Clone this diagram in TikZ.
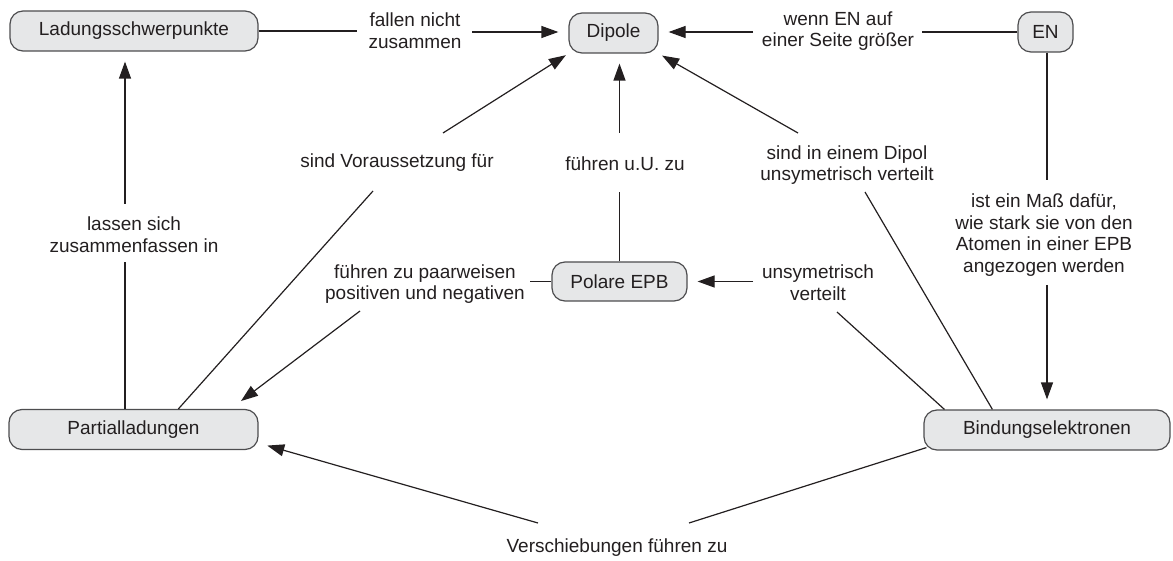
\documentclass[tikz,border=0pt]{standalone}
\usepackage{fontspec}
\setmainfont{Liberation Sans}
\usetikzlibrary{arrows.meta,calc}
\definecolor{boxfill}{HTML}{E6E7E8}
\definecolor{boxdraw}{HTML}{4D4D4F}
\definecolor{ink}{HTML}{231F20}
\begin{document}
\begin{tikzpicture}[x=0.5pt,y=-0.5pt,
  concept/.style={draw=boxdraw, fill=boxfill, rounded corners=6.5pt, line width=0.6pt,
    minimum height=20pt, inner sep=0pt, font=\fontsize{9.5}{10.8}\selectfont, text=ink},
  lbl/.style={align=center, font=\fontsize{9.5}{10.8}\selectfont, text=ink, inner sep=0pt},
  ln/.style={draw=ink, line width=0.6pt},
  arr/.style={ln, -{Triangle[length=8.5pt,width=6pt]}, shorten >=5pt}]
\useasboundingbox (0,0) rectangle (1173,561);

% concept nodes
\node[concept, minimum width=124pt] (lad) at (134,31) {Ladungsschwerpunkte};
\node[concept, minimum width=44.5pt] (dip) at (613.5,33) {Dipole};
\node[concept, minimum width=27.5pt] (en) at (1045.5,32) {EN};
\node[concept, minimum width=67.5pt, minimum height=19.5pt] (pol) at (619.5,281.5) {Polare EPB};
\node[concept, minimum width=124.5pt] (part) at (133.5,429.5) {Partialladungen};
\node[concept, minimum width=123pt] (bind) at (1047,430) {Bindungselektronen};

% link labels
\node[lbl] (l1) at (415,31) {fallen nicht\\zusammen};
\node[lbl] (l2) at (838,31) {wenn EN auf\\einer Seite größer};
\node[lbl] (l3) at (134,235) {lassen sich\\zusammenfassen in};
\node[lbl] (l4) at (397,163) {sind Voraussetzung für};
\node[lbl] (l5) at (625,164) {führen u.U. zu};
\node[lbl] (l6) at (847,165) {sind in einem Dipol\\unsymetrisch verteilt};
\node[lbl] (l7) at (1044,235) {ist ein Maß dafür,\\wie stark sie von den\\Atomen in einer EPB\\angezogen werden};
\node[lbl] (l8) at (818,283) {unsymetrisch\\verteilt};
\node[lbl] (l9) at (425,284) {führen zu paarweisen\\positiven und negativen};
\node[lbl] (l10) at (617,548) {Verschiebungen führen zu};

% free ends of connectors
\coordinate (c1a) at (357,31);   \coordinate (c1b) at (472,32);
\coordinate (c2a) at (922,32);   \coordinate (c2b) at (753,32);
\coordinate (c3a) at (125,262);  \coordinate (c3b) at (125,204);
\coordinate (c4a) at (373,191);  \coordinate (c4b) at (443,133);
\coordinate (c5a) at (619.5,192);\coordinate (c5b) at (619.5,133);
\coordinate (c6a) at (865,192);  \coordinate (c6b) at (798,133);
\coordinate (c7a) at (1047,180); \coordinate (c7b) at (1047,285);
\coordinate (c8a) at (837,312);  \coordinate (c8b) at (753,281.5);
\coordinate (c9a) at (530,281.5);\coordinate (c9b) at (360,311);
\coordinate (c10a) at (689,523); \coordinate (c10b) at (538,523);

% connectors
\draw[ln] (lad.east) -- (c1a);
\draw[arr] (c1b) -- (c1b -| dip.west);

\draw[ln] (en.west |- c2a) -- (c2a);
\draw[arr] (c2b) -- (c2b -| dip.east);

\draw[ln] (part.north -| c3a) -- (c3a);
\draw[arr] (c3b) -- (c3b |- lad.south);

\draw[ln] ($(part.north west)+(170,0)$) -- (c4a);
\draw[arr, shorten >=1.5pt] (c4b) -- (dip.south west);

\draw[ln] (pol.north) -- (c5a);
\draw[arr] (c5b) -- (c5b |- dip.south);

\draw[ln] ($(bind.north west)+(69,0)$) -- (c6a);
\draw[arr, shorten >=2pt] (c6b) -- (dip.south east);

\draw[ln] (en.south -| c7a) -- (c7a);
\draw[arr] (c7b) -- (c7b |- bind.north);

\draw[ln] ($(bind.north west)+(21,0)$) -- (c8a);
\draw[arr] (c8b) -- (c8b -| pol.east);

\draw[ln] (pol.west) -- (c9a);
\draw[arr, shorten >=6.5pt] (c9b) -- ($(part.north east)+(-28,0)$);

\draw[ln] ($(bind.south west)+(3,-3)$) -- (c10a);
\draw[arr, shorten >=4.5pt] (c10b) -- ($(part.south east)+(0,-7)$);
\end{tikzpicture}
\end{document}
